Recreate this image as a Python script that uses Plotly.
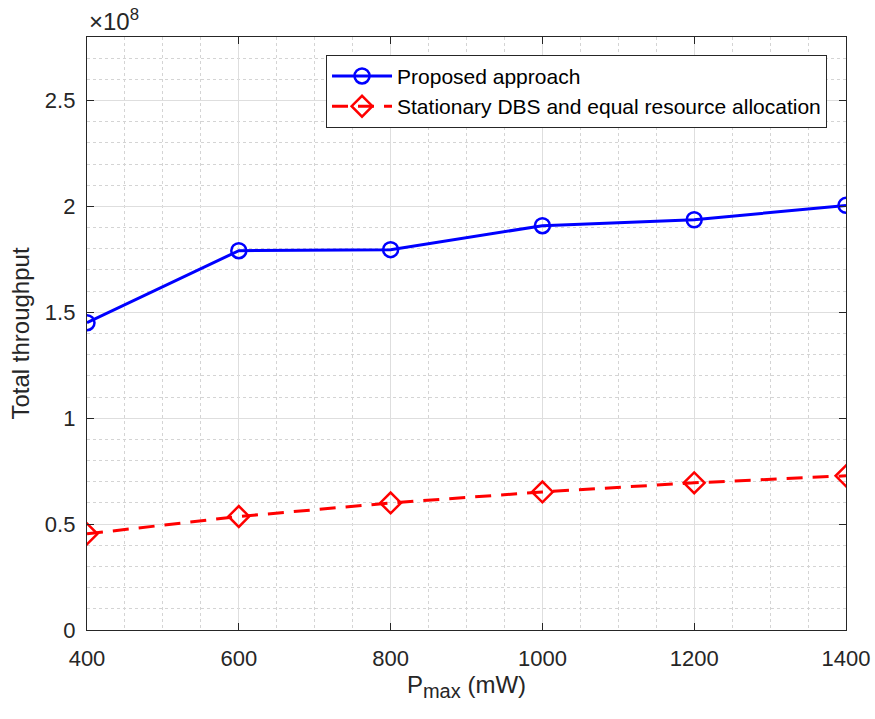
import plotly.graph_objects as go

p_max = [400, 600, 800, 1000, 1200, 1400]
proposed = [1.451e8, 1.791e8, 1.796e8, 1.909e8, 1.937e8, 2.005e8]
stationary = [0.454e8, 0.536e8, 0.600e8, 0.652e8, 0.695e8, 0.728e8]
y_tick_vals = [0, 0.5e8, 1.0e8, 1.5e8, 2.0e8, 2.5e8]
y_tick_text = ["0", "0.5", "1", "1.5", "2", "2.5"]
x_tick_vals = [400, 600, 800, 1000, 1200, 1400]

FONT = "Liberation Sans, Arial"
TXT = "#262626"

fig = go.Figure()
fig.add_trace(go.Scatter(
    x=p_max, y=proposed, mode="lines+markers", name="Proposed approach",
    line=dict(color="#0000ff", width=3),
    marker=dict(symbol="circle-open", size=15, color="#0000ff", line=dict(width=2.5, color="#0000ff")),
))
fig.add_trace(go.Scatter(
    x=p_max, y=stationary, mode="lines+markers", name="Stationary DBS and equal resource allocation",
    line=dict(color="#ff0000", width=3, dash="16px,10px"),
    marker=dict(symbol="diamond-open", size=16, color="#ff0000", line=dict(width=2.5, color="#ff0000")),
))

axis_common = dict(
    showline=True, linecolor=TXT, linewidth=1.3, mirror="ticks",
    ticks="inside", ticklen=7, tickcolor=TXT, tickwidth=1.3,
    showgrid=True, gridcolor="#dedede", gridwidth=1,
    zeroline=False, automargin=False,
    tickfont=dict(family=FONT, size=22, color=TXT),
)

fig.update_xaxes(
    range=[400, 1400], tickvals=x_tick_vals, ticklabelstandoff=8,
    minor=dict(dtick=50, showgrid=True, gridcolor="#d4d4d4", griddash="dot", gridwidth=1, ticks=""),
    title=dict(text="P<sub><span style=\"font-size:20px\">max</span></sub> (mW)",
               font=dict(family=FONT, size=24, color=TXT), standoff=4),
    **axis_common,
)
fig.update_yaxes(
    range=[0, 2.8e8], tickvals=y_tick_vals, ticktext=y_tick_text, ticklabelstandoff=6,
    minor=dict(dtick=0.1e8, showgrid=True, gridcolor="#d4d4d4", griddash="dot", gridwidth=1, ticks=""),
    title=dict(text="Total throughput", font=dict(family=FONT, size=24, color=TXT), standoff=8),
    **axis_common,
)

fig.add_annotation(
    x=0, y=1, xref="paper", yref="paper", xanchor="left", yanchor="bottom",
    text="×10<sup>8</sup>", showarrow=False, yshift=0,
    font=dict(family=FONT, size=24, color=TXT),
)

fig.update_layout(
    width=875, height=719,
    margin=dict(l=87, r=29, t=37, b=89),
    paper_bgcolor="white", plot_bgcolor="white",
    showlegend=True,
    legend=dict(
        x=0.975, y=0.97, xanchor="right", yanchor="top",
        bgcolor="white", bordercolor=TXT, borderwidth=1,
        font=dict(family=FONT, size=21, color="black"),
        tracegroupgap=0, itemwidth=60,
    ),
)

fig.write_html("out.html")
